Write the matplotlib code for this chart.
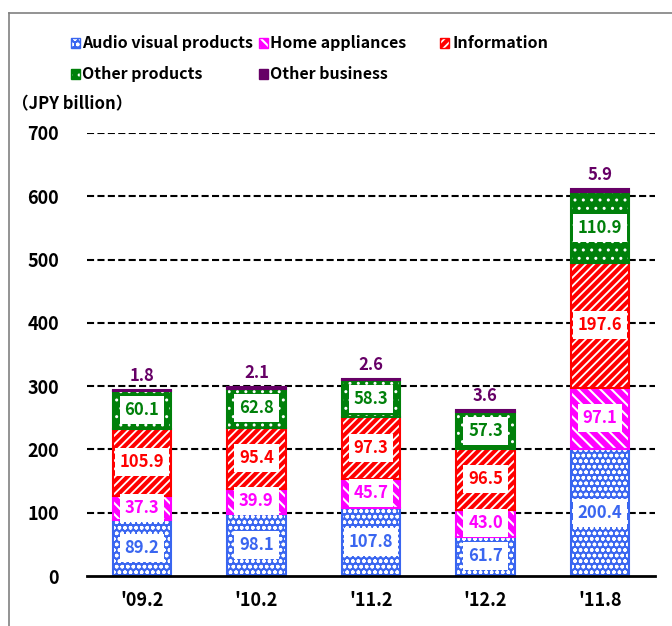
import matplotlib
matplotlib.use("Agg")
import matplotlib.pyplot as plt
from matplotlib.patches import Rectangle
from matplotlib.lines import Line2D
import numpy as np

plt.rcParams['font.family'] = ['Noto Sans CJK JP', 'DejaVu Sans']

periods = ["'09.2", "'10.2", "'11.2", "'12.2", "'11.8"]
audio_visual = [89.2, 98.1, 107.8, 61.7, 200.4]
home_appliances = [37.3, 39.9, 45.7, 43.0, 97.1]
information = [105.9, 95.4, 97.3, 96.5, 197.6]
other_products = [60.1, 62.8, 58.3, 57.3, 110.9]
other_business = [1.8, 2.1, 2.6, 3.6, 5.9]
yticks = [0, 100, 200, 300, 400, 500, 600, 700]

series = [
    ("Audio visual products", audio_visual, "#3A66F0", "ooo", 1.0),
    ("Home appliances", home_appliances, "#FF00FF", "\\\\\\", 1.5),
    ("Information", information, "#FF0000", "////", 1.3),
    ("Other products", other_products, "#00800A", "..", 1.0),
    ("Other business", other_business, "#660066", None, 1.0),
]

fig = plt.figure(figsize=(6.72, 6.26), dpi=100)
ax = fig.add_axes([87 / 672, 1 - 576 / 626, (655 - 87) / 672, (576 - 133) / 626])

x = np.arange(len(periods))
width = 0.51
bottom = np.zeros(len(periods))

for name, vals, color, hatch, hlw in series:
    vals = np.array(vals)
    with plt.rc_context({'hatch.linewidth': hlw}):
        ax.bar(x, vals, width, bottom=bottom, color=color,
               edgecolor='white' if hatch else color, linewidth=0,
               hatch=hatch, zorder=3)
    ax.bar(x, vals, width, bottom=bottom, fill=False, edgecolor=color,
           linewidth=1.5, zorder=4)
    if name != "Other business":
        for xi, b, v in zip(x, bottom, vals):
            ax.text(xi, b + v / 2, f"{v:.1f}", ha='center', va='center',
                    color=color, fontsize=12, fontweight='bold', zorder=5,
                    bbox=dict(boxstyle='square,pad=0.3', fc='white', ec='none'))
    else:
        for xi, b, v in zip(x, bottom, vals):
            ax.text(xi, b + v + 8, f"{v:.1f}", ha='center', va='bottom',
                    color=color, fontsize=12, fontweight='bold', zorder=5)
    bottom = bottom + vals

ax.set_xlim(-0.48, len(periods) - 0.52)
ax.set_ylim(0, 700)
ax.set_yticks(yticks)
ax.set_yticklabels([str(t) for t in yticks], fontsize=13, fontweight='bold')
ax.set_xticks(x)
ax.set_xticklabels(periods, fontsize=13, fontweight='bold')
ax.tick_params(length=0)
ax.tick_params(axis='y', pad=20)
ax.tick_params(axis='x', pad=11)
for s in ['left', 'right', 'top']:
    ax.spines[s].set_visible(False)
ax.spines['bottom'].set_linewidth(2)
ax.spines['bottom'].set_zorder(6)
for t in yticks[1:]:
    ax.axhline(t, color='black', lw=1.5, ls=(0, (3.4, 1.6)), zorder=1)

# legend entries laid out in two rows
legend_pos = [(75, 43), (263, 43), (445, 43), (75, 74), (263, 74)]
for (name, vals, color, hatch, hlw), (px, py) in zip(series, legend_pos):
    size = 9
    with plt.rc_context({'hatch.linewidth': hlw}):
        r = Rectangle(((px - size / 2) / 672, 1 - (py + size / 2) / 626),
                      size / 672, size / 626, transform=fig.transFigure,
                      facecolor=color, edgecolor='white' if hatch else color,
                      linewidth=0, hatch=hatch)
    fig.add_artist(r)
    fig.add_artist(Rectangle(((px - size / 2) / 672, 1 - (py + size / 2) / 626),
                             size / 672, size / 626, transform=fig.transFigure,
                             fill=False, edgecolor=color, linewidth=1))
    fig.text((px + 7) / 672, 1 - py / 626, name, ha='left', va='center',
             fontsize=11.5, fontweight='bold')

fig.text(12 / 672, 1 - 104 / 626, "（JPY billion）", ha='left', va='center',
         fontsize=12, fontweight='bold')

# outer frame
fig.add_artist(Line2D([9 / 672, 9 / 672], [0, 1 - 13 / 626], transform=fig.transFigure,
                      color='#808080', lw=1.2))
fig.add_artist(Line2D([9 / 672, 1], [1 - 13 / 626, 1 - 13 / 626], transform=fig.transFigure,
                      color='#808080', lw=1.2))

fig.savefig("out.png", dpi=100)
